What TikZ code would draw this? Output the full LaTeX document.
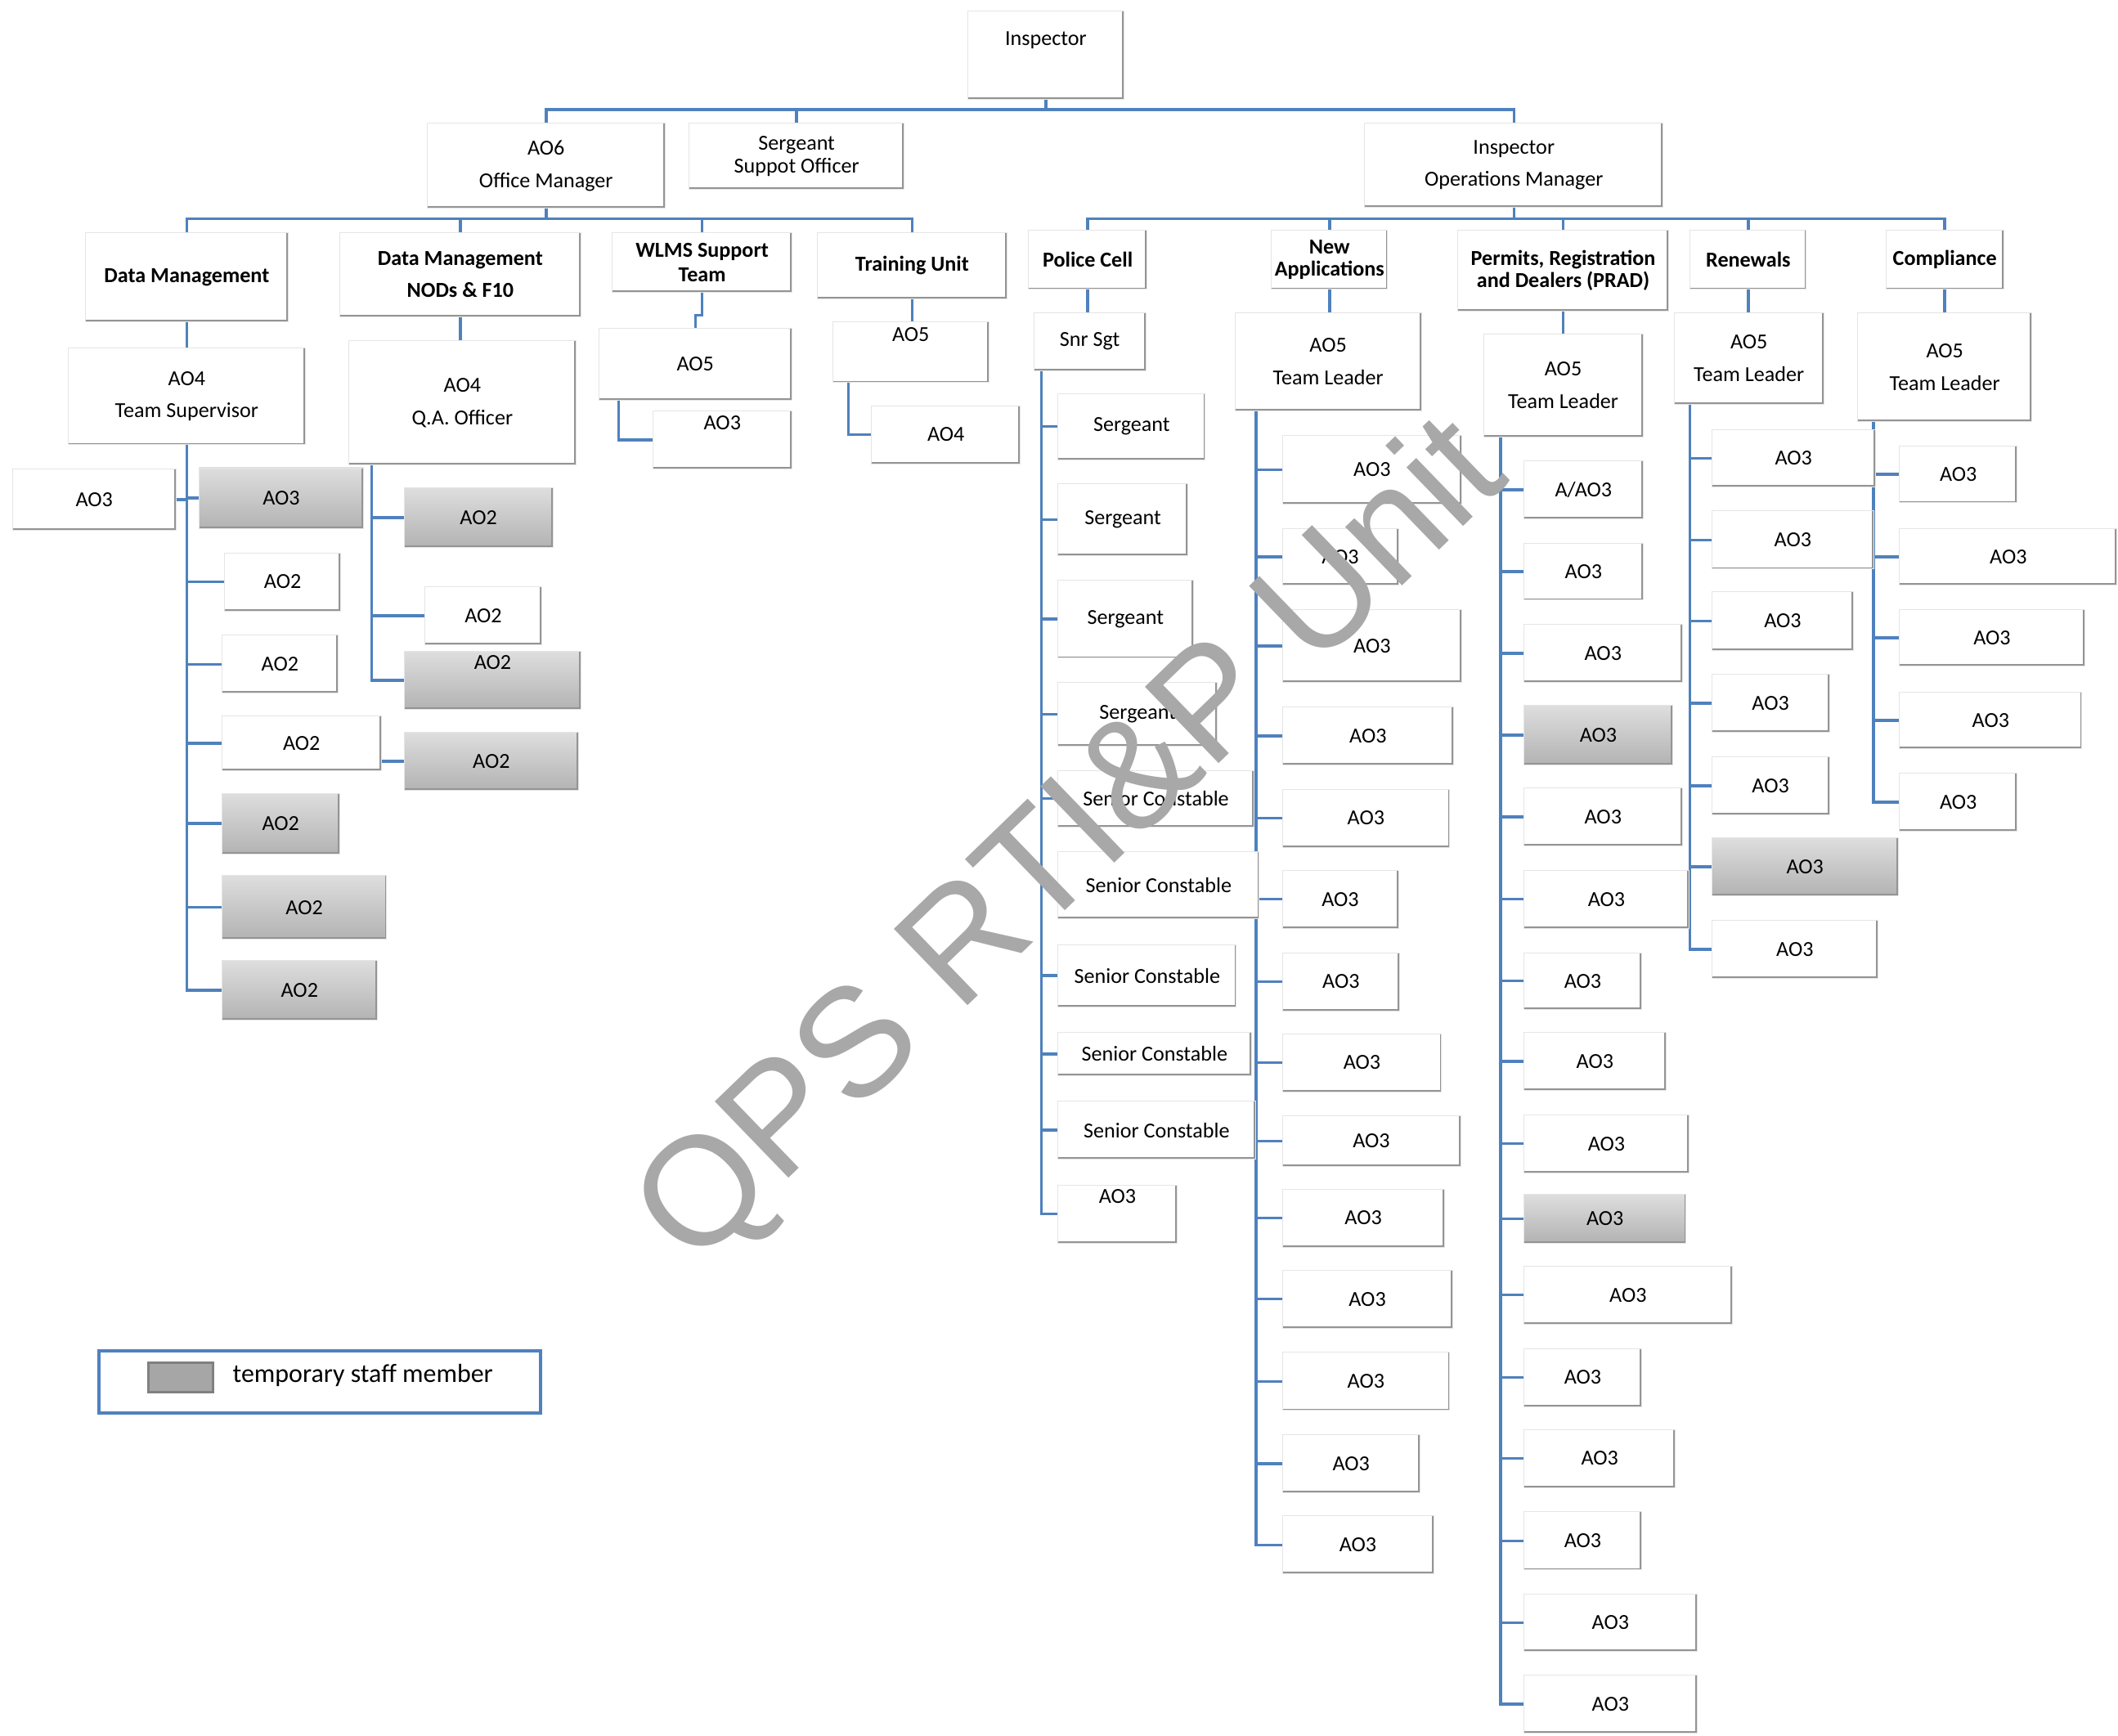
\documentclass[tikz,border=0pt]{standalone}
\usepackage{fontspec}
\setmainfont{Carlito}
\newfontfamily\wmfont{Liberation Sans}
\usetikzlibrary{backgrounds}
\definecolor{orgblue}{RGB}{79,129,189}

\begin{document}
\begin{tikzpicture}[
    x=0.02cm, y=-0.02cm,
    box/.style={fill=white, draw=black!10, line width=0.3pt, inner sep=1pt,
        align=center, anchor=north west, font=\fontsize{9}{10.5}\selectfont,
        path picture={\draw[black!42, line width=1.6pt]
            (path picture bounding box.north east) |- (path picture bounding box.south west);}},
    temp/.style={box, top color=black!13, bottom color=black!30},
    head/.style={box, font=\fontsize{9}{10.5}\selectfont\bfseries},
    loose/.style={font=\fontsize{9}{13.6}\selectfont},
    tight/.style={font=\fontsize{9}{9.6}\selectfont},
    lift/.style={text depth=#1},
    sz/.style 2 args={minimum width={(#1)*0.02cm}, minimum height={(#2)*0.02cm}},
    link/.style={draw=orgblue, line width=1.2pt},
    watermark/.style={font=\wmfont\fontsize{65}{65}\selectfont, text=black!34, inner sep=0pt}
    ]
    \useasboundingbox (0,0) rectangle (1568,1285);
    % nodes
    % top
    \node[box, sz={116}{65}, lift=0.5cm] (insp) at (716,8) {Inspector};
    \node[box, loose, sz={176}{63}] (om) at (316,91) {AO6\\Office Manager};
    \node[box, tight, sz={159}{49}] (sso) at (510,91) {Sergeant\\Suppot Officer};
    \node[box, loose, sz={221}{62}] (opm) at (1010,91) {Inspector\\Operations Manager};
    % left units
    \node[head, sz={150}{66}] (dm1) at (63,172) {Data Management};
    \node[head, font=\fontsize{9}{13.6}\selectfont\bfseries, sz={179}{62}] (dm2) at (251,172) {Data Management\\NODs \& F10};
    \node[head, sz={133}{44}] (wlms) at (453,172) {WLMS Support\\Team};
    \node[head, sz={140}{49}] (tu) at (605,172) {Training Unit};
    % right units
    \node[head, sz={88}{44}] (pc) at (761,170) {Police Cell};
    \node[head, font=\fontsize{9}{9.6}\selectfont\bfseries, sz={86}{44}] (na) at (941,170) {New\\Applications};
    \node[head, font=\fontsize{9}{9.6}\selectfont\bfseries, sz={156}{60}] (prad) at (1079,170) {Permits, Registration\\and Dealers (PRAD)};
    \node[head, sz={86}{44}] (ren) at (1251,170) {Renewals};
    \node[head, sz={87}{44}] (comp) at (1396,170) {Compliance};
    % team leads
    \node[box, loose, sz={176}{72}] (ts) at (50,257) {AO4\\Team Supervisor};
    \node[box, loose, sz={168}{92}] (qa) at (258,252) {AO4\\Q.A. Officer};
    \node[box, sz={143}{53}] (wao5) at (443,243) {AO5};
    \node[box, sz={103}{43}, lift=0.52cm] (wao3) at (483,304) {AO3};
    \node[box, sz={116}{45}, lift=0.52cm] (tao5) at (616,238) {AO5};
    \node[box, sz={110}{43}] (tao4) at (645,300) {AO4};
    \node[box, sz={83}{43}] (snr) at (765,231) {Snr Sgt};
    \node[box, loose, sz={138}{73}] (natl) at (914,231) {AO5\\Team Leader};
    \node[box, loose, sz={118}{76}] (prtl) at (1098,247) {AO5\\Team Leader};
    \node[box, loose, sz={111}{68}] (rentl) at (1239,231) {AO5\\Team Leader};
    \node[box, loose, sz={129}{81}] (comptl) at (1375,231) {AO5\\Team Leader};
    % data management staff
    \node[box, sz={121}{45}] (dma0) at (9,347) {AO3};
    \node[temp, sz={122}{45}] (dmg0) at (147,346) {AO3};
    \node[box, sz={86}{43}] (dma1) at (166,409) {AO2};
    \node[box, sz={86}{43}] (dma2) at (164,470) {AO2};
    \node[box, sz={118}{40}] (dma3) at (164,530) {AO2};
    \node[temp, sz={87}{45}] (dmg4) at (164,587) {AO2};
    \node[temp, sz={122}{47}] (dmg5) at (164,648) {AO2};
    \node[temp, sz={115}{44}] (dmg6) at (164,711) {AO2};
    % nods staff
    \node[temp, sz={110}{44}] (qag1) at (299,361) {AO2};
    \node[box, sz={87}{43}] (qaw2) at (314,434) {AO2};
    \node[temp, sz={131}{43}, lift=0.54cm] (qag3) at (299,482) {AO2};
    \node[temp, sz={129}{43}] (qag4) at (299,542) {AO2};
    % police cell
    \foreach \i/\t/\b/\r/\n in {1/291/340/892/Sergeant, 2/358/411/879/Sergeant,
        3/429/487/883/Sergeant, 4/505/552/901/Sergeant,
        5/570/612/928/Senior Constable, 6/630/680/932/Senior Constable,
        7/699/745/915/Senior Constable, 8/764/796/926/Senior Constable,
        9/815/858/929/Senior Constable} {
        \node[box, sz={\r-783}{\b-\t}] (pc\i) at (783,\t) {\n};
    }
    \node[box, sz={88}{43}, lift=0.52cm] (pc10) at (783,877) {AO3};
    % new applications
    \foreach \i/\t/\b/\r in {1/322/373/1082, 2/391/433/1035, 3/451/505/1082,
        4/523/566/1076, 5/584/627/1073, 6/644/687/1035, 7/705/748/1036,
        8/765/808/1067, 9/826/863/1081, 10/880/923/1069, 11/940/983/1075,
        12/1001/1044/1073, 13/1062/1105/1051, 14/1122/1165/1061} {
        \node[box, sz={\r-949}{\b-\t}] (na\i) at (949,\t) {AO3};
    }
    % prad
    \node[box, sz={88}{43}] (pr1) at (1128,341) {A/AO3};
    \foreach \i/\t/\b/\r in {2/402/444/1216, 3/462/505/1245, 5/583/626/1245,
        6/644/687/1250, 7/705/747/1215, 8/764/807/1233, 9/825/868/1250,
        11/937/980/1282, 12/998/1041/1215, 13/1058/1101/1240,
        14/1119/1162/1215, 15/1180/1222/1256, 16/1240/1283/1256} {
        \node[box, sz={\r-1128}{\b-\t}] (pr\i) at (1128,\t) {AO3};
    }
    \node[temp, sz={110}{44}] (pr4) at (1128,522) {AO3};
    \node[temp, sz={120}{36}] (pr10) at (1128,884) {AO3};
    % renewals
    \foreach \i/\t/\b/\r in {1/318/360/1388, 2/378/421/1387, 3/438/481/1372,
        4/499/542/1354, 5/560/603/1354, 7/681/724/1390} {
        \node[box, sz={\r-1267}{\b-\t}] (rn\i) at (1267,\t) {AO3};
    }
    \node[temp, sz={138}{43}] (rn6) at (1267,620) {AO3};
    % compliance
    \foreach \i/\t/\b/\r in {1/330/372/1493, 2/391/433/1567, 3/451/493/1543,
        4/512/554/1541, 5/572/615/1493} {
        \node[box, sz={\r-1406}{\b-\t}] (cp\i) at (1406,\t) {AO3};
    }
    % edges
    \begin{scope}[on background layer]
        \coordinate (bus0) at (0,81);
        \coordinate (bus1) at (0,162);
        \draw[link] (insp.south) -- (insp.south |- bus0);
        \foreach \n in {om,sso,opm}
            \draw[link] (insp.south |- bus0) -| (\n.north);
        \draw[link] (om.south) -- (om.south |- bus1);
        \foreach \n in {dm1,dm2,wlms,tu}
            \draw[link] (om.south |- bus1) -| (\n.north);
        \draw[link] (opm.south) -- (opm.south |- bus1);
        \foreach \n in {pc,na,prad,ren,comp}
            \draw[link] (opm.south |- bus1) -| (\n.north);
        % unit heads
        \draw[link] (dm1.south) -- (dm1.south |- ts.north);
        \draw[link] (dm2.south) -- (dm2.south |- qa.north);
        \draw[link] (wlms.south) -- ++(0,17) -| (wao5.north);
        \draw[link] (tu.south) -- (tu.south |- tao5.north);
        \draw[link] (pc.south) -- (pc.south |- snr.north);
        \draw[link] (na.south) -- (na.south |- natl.north);
        \draw[link] (prad.south) -- (prad.south |- prtl.north);
        \draw[link] (ren.south) -- (ren.south |- rentl.north);
        \draw[link] (comp.south) -- (comp.south |- comptl.north);
        % staff
        \draw[link] (ts.south) |- (dma0.east);
        \foreach \n in {dmg0,dma1,dma2,dma3,dmg4,dmg5,dmg6}
            \draw[link] (ts.south) |- (\n.west);
        \coordinate (qax) at (275,0);
        \foreach \n in {qag1,qaw2,qag3}
            \draw[link] (qa.south -| qax) |- (\n.west);
        \draw[link] (dma3.east |- qag4.west) -- (qag4.west);
        \coordinate (wx) at (458,0);
        \draw[link] (wao5.south -| wx) |- (wao3.west);
        \coordinate (tx) at (628,0);
        \draw[link] (tao5.south -| tx) |- (tao4.west);
        \coordinate (pcx) at (771,0);
        \foreach \i in {1,...,10}
            \draw[link] (snr.south -| pcx) |- (pc\i.west);
        \coordinate (nax) at (930,0);
        \foreach \i in {1,...,14}
            \draw[link] (natl.south -| nax) |- (na\i.west);
        \coordinate (prx) at (1111,0);
        \foreach \i in {1,...,16}
            \draw[link] (prtl.south -| prx) |- (pr\i.west);
        \coordinate (rnx) at (1251,0);
        \foreach \i in {1,...,7}
            \draw[link] (rentl.south -| rnx) |- (rn\i.west);
        \coordinate (cpx) at (1387,0);
        \foreach \i in {1,...,5}
            \draw[link] (comptl.south -| cpx) |- (cp\i.west);
    \end{scope}
    % legend
    \node[draw=orgblue, line width=1.4pt, anchor=north west, sz={327}{46}] (legend) at (72,999) {};
    \node[draw=black!50, fill=black!35, line width=0.9pt, anchor=north west, sz={48}{22}] (swatch) at (109,1008) {};
    \node[anchor=west, inner sep=0pt, font=\fontsize{11}{13}\selectfont] (legtext) at (172,1018) {temporary staff member};
    % watermark
    \node[watermark, rotate=44] (wm) at (795,626) {QPS RTI\&P Unit};
\end{tikzpicture}
\end{document}
